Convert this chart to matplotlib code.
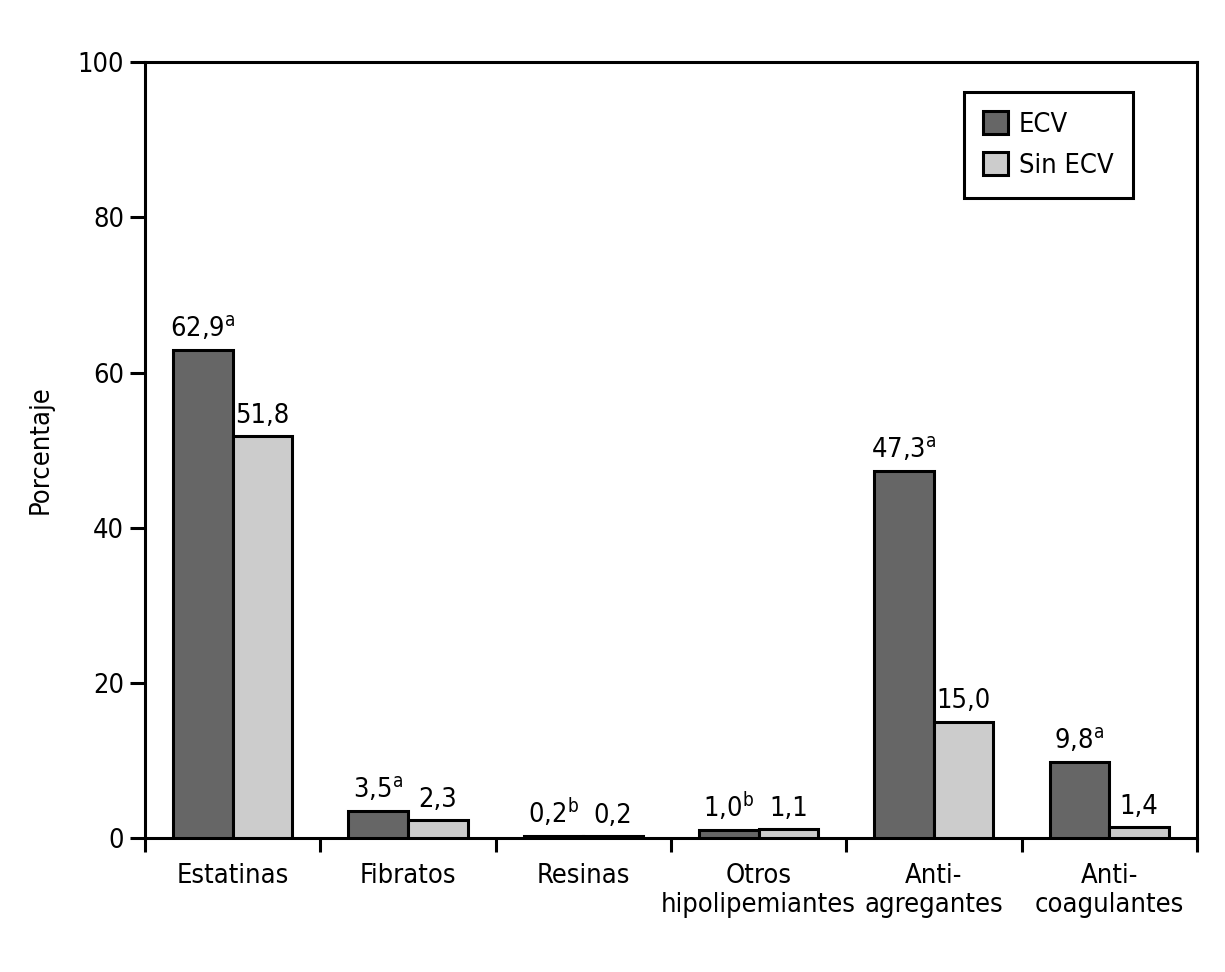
import numpy as np
import matplotlib
matplotlib.use("Agg")
import matplotlib.pyplot as plt

plt.rcParams['font.family'] = ['DejaVu Sans']
plt.rcParams['font.stretch'] = 'condensed'
plt.rcParams['mathtext.fontset'] = 'custom'
plt.rcParams['mathtext.rm'] = 'DejaVu Sans:stretch=condensed'

# data
categorias = ["Estatinas", "Fibratos", "Resinas", "Otros\nhipolipemiantes",
              "Anti-\nagregantes", "Anti-\ncoagulantes"]
ecv = [62.9, 3.5, 0.2, 1.0, 47.3, 9.8]
sin_ecv = [51.8, 2.3, 0.2, 1.1, 15.0, 1.4]
sup_ecv = ["a", "a", "b", "b", "a", "a"]

dark = "#666666"
light = "#cccccc"
lw = 2.2
fs = 19.5

fig = plt.figure(figsize=(12.25, 9.72), dpi=100)
ax = fig.add_axes([0.1184, 0.1379, 0.977 - 0.1184, 0.936 - 0.1379])

x = np.arange(len(categorias))
w = 0.34
ax.bar(x - w / 2, ecv, w, color=dark, edgecolor="black", linewidth=lw, label="ECV", zorder=3)
ax.bar(x + w / 2, sin_ecv, w, color=light, edgecolor="black", linewidth=lw, label="Sin ECV", zorder=3)

for xi, v, s in zip(x, ecv, sup_ecv):
    txt = ("%.1f" % v).replace(".", ",") + r"$^{\mathrm{%s}}$" % s
    ax.text(xi - w / 2, v + 1.7, txt, ha="center", va="baseline", fontsize=fs)
for xi, v in zip(x, sin_ecv):
    txt = ("%.1f" % v).replace(".", ",")
    ax.text(xi + w / 2, v + 1.7, txt, ha="center", va="baseline", fontsize=fs)

ax.set_xlim(-0.5, len(categorias) - 0.5)
ax.set_ylim(0, 100)
ax.set_yticks([0, 20, 40, 60, 80, 100])
ax.set_xticks(np.arange(-0.5, len(categorias), 1.0))
ax.set_xticklabels([])
ax.set_xticks(x, minor=True)
ax.set_xticklabels(categorias, minor=True, fontsize=fs, linespacing=1.15)
ax.tick_params(axis="x", which="minor", length=0, pad=18)
ax.tick_params(axis="x", which="major", length=10, width=lw, direction="out")
ax.tick_params(axis="y", length=11, width=lw, labelsize=fs, pad=4)
for sp in ax.spines.values():
    sp.set_linewidth(lw)
ax.set_ylabel("Porcentaje", fontsize=fs, labelpad=17)

leg = ax.legend(loc="upper right", bbox_to_anchor=(0.939, 0.961), fontsize=fs,
                fancybox=False, edgecolor="black", framealpha=1, borderaxespad=0,
                handlelength=0.93, handleheight=0.93, handletextpad=0.4,
                borderpad=0.7, labelspacing=0.5)
leg.get_frame().set_linewidth(lw)

fig.savefig("out.png", dpi=100)
